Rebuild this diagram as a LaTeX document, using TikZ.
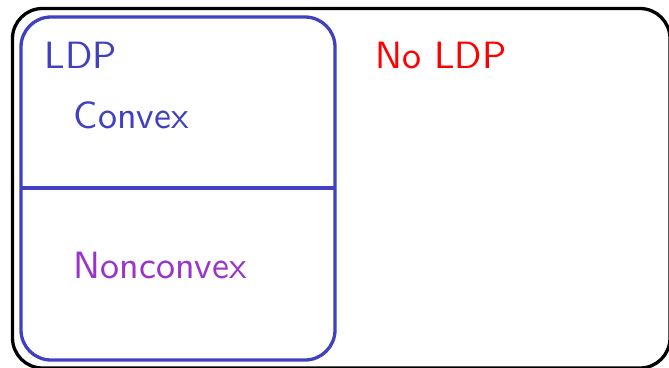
\documentclass[tikz,border=0pt]{standalone}
\usepackage{fontspec}
\definecolor{ldpblue}{RGB}{64,64,192}
\definecolor{ncpurple}{RGB}{153,51,204}
\begin{document}
\begin{tikzpicture}[x=1pt,y=-1pt,
  lbl/.style={inner sep=0pt,anchor=base west,scale=3.8,transform shape,font=\sffamily\fontsize{10}{12}\selectfont},
  box/.style={line width=3.3pt,rounded corners=30pt}]
\useasboundingbox (0,0) rectangle (669,367);
\clip (0,0) rectangle (669,367);
\draw[box,black] (12.5,8.5) rectangle (670,368);
\draw[box,ldpblue] (21,17) rectangle (335,360);
\coordinate (sl) at (21,188);
\coordinate (sr) at (335,188);
\draw[ldpblue,line width=3.3pt] (sl) -- (sr);
\node[lbl,text=ldpblue] (ldp) at (44,68) {LDP};
\node[lbl,text=ldpblue] (cvx) at (73,128) {Convex};
\node[lbl,text=ncpurple] (ncvx) at (73,278) {Nonconvex};
\node[lbl,text=red] (noldp) at (375,68) {No LDP};
\end{tikzpicture}
\end{document}
